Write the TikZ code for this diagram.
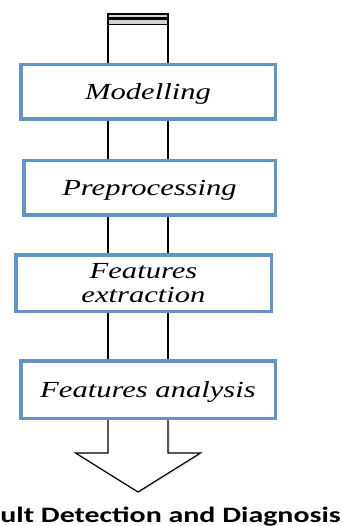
\documentclass[tikz,border=0pt]{standalone}
\usepackage{fontspec}
\setmainfont{Liberation Serif}
\newfontfamily\capfont{Carlito}
\usepackage{graphicx}
\usepackage{xcolor}
\usetikzlibrary{positioning, calc, shadows}

\definecolor{stageblue}{RGB}{99,148,201}
\newcommand{\wide}[1]{\scalebox{1.33}[1]{#1}}

\begin{document}
\begin{tikzpicture}[x=1pt, y=-1pt,
    stage/.style={draw=stageblue, line width=3.5pt, fill=white, inner sep=0pt,
      align=center, font=\fontsize{23}{24}\selectfont\itshape},
    oneline/.style={text height=19pt, text depth=4pt},
    shaft/.style={line width=1.5pt, black}]
  \useasboundingbox (0,0) rectangle (342,526);

  % shaft of the arrow
  \coordinate (topL) at (108,14);
  \coordinate (topR) at (168,14);
  \coordinate (tip) at (138,492);

  % stages
  \node[stage, oneline, minimum width=254.5pt, minimum height=54.5pt] (model) at (148,92) {\wide{Modelling}};
  \node[stage, oneline, minimum width=251.5pt, minimum height=54.5pt] (prep) at (149.5,188) {\wide{Preprocessing}};
  \node[stage, minimum width=255.5pt, minimum height=56.5pt] (extr) at (143.5,283) {\wide{Features}\\\wide{extraction}};
  \node[stage, oneline, minimum width=254.5pt, minimum height=57.5pt] (anal) at (148,389.5) {\wide{Features analysis}};

  % top of the shaft
  \draw[shaft] (topL) -- (topL |- model.north);
  \draw[shaft] (topR) -- (topR |- model.north);
  \draw[line width=1.2pt, fill=gray!35] (topL) rectangle ($(topR)+(0,4)$);
  \draw[line width=1.2pt, fill=gray!35] ($(topL)+(0,5.5)$) rectangle ($(topR)+(0,10.5)$);

  % shaft between the stages
  \foreach \a/\b in {model/prep, prep/extr, extr/anal} {
    \draw[shaft] (topL |- \a.south) -- (topL |- \b.north);
    \draw[shaft] (topR |- \a.south) -- (topR |- \b.north);
  }

  % arrow head
  \draw[line width=1.2pt, fill=white, drop shadow={shadow xshift=1.5pt, shadow yshift=-1.5pt, opacity=0.2}]
    (topL |- anal.south) -- (topL |- 0,453) -- (75.5,453) -- (tip)
    -- (200.5,453) -- (topR |- 0,453) -- (topR |- anal.south);

  % result
  \node[anchor=base east, inner sep=0pt, font=\capfont\bfseries\fontsize{22}{24}\selectfont]
    (result) at (341,522) {\scalebox{1.36}[1]{Fault Detection and Diagnosis}};
\end{tikzpicture}
\end{document}
